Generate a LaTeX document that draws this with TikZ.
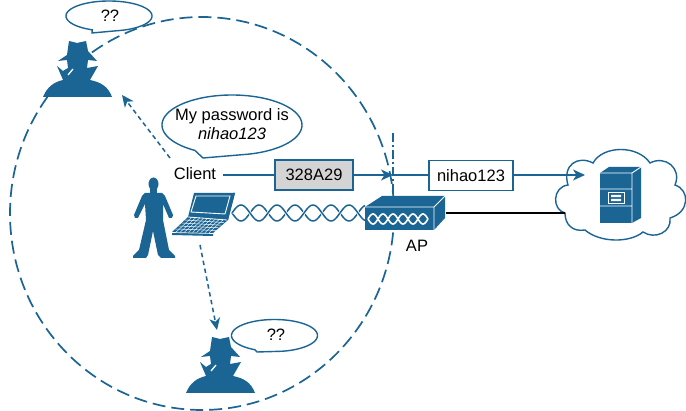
\documentclass[tikz,border=0pt]{standalone}
\usepackage{fontspec}
\setmainfont{Liberation Sans}
\usetikzlibrary{arrows.meta,calc}
\definecolor{ciscoblue}{HTML}{1B6595}
\definecolor{boxgray}{HTML}{D4D4D4}
\def\spyoutline{(69,41) -- (77,43) -- (86,41) -- (88,51) -- (97,61) -- (88,60) -- (87,68) -- (98,66) -- (90,80)
  .. controls (100,82) and (108,86) .. (112,97) -- (43,97)
  .. controls (47,87) and (54,82) .. (63,80) -- (57,66) -- (63,71) -- (68,68) -- (67,60) -- (58,61) -- (67,55) -- cycle}
\newcommand{\bubble}[8]{%
  \draw[bubbleline] plot[domain=#5:#6,samples=80,smooth] ({#1+#3*cos(\x)},{#2+#4*sin(\x)}) -- (#7,#8) -- cycle;}
\tikzset{
  bubbleline/.style={draw=ciscoblue,line width=1.4pt,fill=white,line join=miter},
  lbl/.style={font=\fontsize{16.5}{18.5}\selectfont,text=black,inner sep=0pt,align=center},
  boxed/.style={lbl,draw=ciscoblue,line width=1.5pt,minimum height=30pt,anchor=center},
  linkline/.style={draw=ciscoblue,line width=1.4pt},
  flowline/.style={linkline,-{Stealth[length=12pt,width=11pt,inset=3.5pt]}},
  dashflow/.style={draw=ciscoblue,line width=1.5pt,dash pattern=on 4.5pt off 3.5pt,
    -{Stealth[length=12pt,width=11pt,inset=3.5pt,color=ciscoblue,line width=0pt]}},
  rangeline/.style={draw=ciscoblue,line width=1.7pt,dash pattern=on 13pt off 6pt},
  spyfig/.pic={
    \fill[ciscoblue] \spyoutline;
    \draw[white,line width=1.3pt] (68,75) -- (73,69);
  }
}
\begin{document}
\begin{tikzpicture}[x=1pt,y=-1pt]
\useasboundingbox (0,0) rectangle (686,411);
\fill[white] (0,0) rectangle (686,411);

% range circle
\draw[rangeline] (202,213.5) ellipse [x radius=192,y radius=196.5];

% spies
\pic at (0,0) {spyfig};
\pic at (143,296) {spyfig};

% bubbles
\bubble{109}{16}{43}{15}{113}{440}{92}{33}
\bubble{232}{125}{70}{30}{122}{437}{203}{158}
\bubble{274.5}{335.5}{43}{16}{117}{440}{257}{352}
\node[lbl] (q1) at (110,16) {??};
\node[lbl] (pw) at (232,124) {My password is\\\textit{nihao123}};
\node[lbl] (q2) at (276,335) {??};

% person
\fill[ciscoblue] (153.5,184) circle [x radius=5,y radius=6.5];
\fill[ciscoblue] (150,188) rectangle (157,194);
\fill[ciscoblue] (145,193) -- (162,193) -- (165,196) -- (173,215) -- (172,218) -- (169,218) -- (163,204)
  -- (163,220) -- (169,250) -- (175,256) -- (175,258) -- (161,258) -- (158,255) -- (153,231)
  -- (148,255) -- (146,258) -- (133,258) -- (133,256) -- (139,250) -- (146,220) -- (145,204)
  -- (138,218) -- (135,218) -- (134,215) -- (142,196) -- cycle;

% laptop
\fill[ciscoblue] (194,193) -- (235,193) -- (228,220) -- (213,233) -- (213,236) -- (172,235) -- (172,232) -- (188,217) -- cycle;
\draw[white,line width=0.9pt] (196,196) -- (230,196) -- (225,214) -- (191,212) -- cycle;
\draw[white,line width=0.8pt] (188,217) -- (227,220);
\draw[white,line width=0.7pt] (172,232.5) -- (213,233.5);
\foreach \t in {0.2,0.4,0.6,0.8}{
  \draw[white,line width=0.5pt] ($(188,217)!\t!(172,232)$) -- ($(227,220)!\t!(213,233)$);
}
\foreach \t in {0.1,0.2,...,0.9}{
  \draw[white,line width=0.4pt] ($(188,217)!\t!(227,220)$) -- ($(172,232)!\t!(213,233)$);
}
\fill[ciscoblue] (235,193) -- (233,193) -- (226,218) -- (228,220) -- cycle;

% wireless
\draw[ciscoblue,line width=1.5pt] plot[domain=0:133,samples=120,smooth] ({232+\x},{213+8*sin(\x*10)});
\draw[white,line width=3pt] plot[domain=0:133,samples=120,smooth] ({232+\x},{213-8*sin(\x*10)});
\draw[ciscoblue,line width=1.5pt] plot[domain=0:133,samples=120,smooth] ({232+\x},{213-8*sin(\x*10)});

% cloud
\draw[ciscoblue,line width=1.4pt,fill=white] (565,213)
  .. controls (552,210) and (552,187) .. (568,185)
  .. controls (562,165) and (578,155) .. (593,163)
  .. controls (603,145) and (638,145) .. (650,163)
  .. controls (665,155) and (682,168) .. (675,185)
  .. controls (690,190) and (690,212) .. (670,218)
  .. controls (672,232) and (655,240) .. (643,232)
  .. controls (630,243) and (600,243) .. (585,230)
  .. controls (573,232) and (565,225) .. (565,213) -- cycle;

% server
\fill[ciscoblue] (600,173) -- (609,167) -- (641,167) -- (641,218) -- (632,223) -- (600,223) -- cycle;
\draw[white,line width=0.9pt] (600,173) -- (632,173) -- (641,167) (632,173) -- (632,223)
  (600,189) -- (632,189) (600,206) -- (632,206);
\draw[white,line width=0.9pt] (608,192.5) rectangle (624,203.5);
\fill[white] (611,195) rectangle (621,197.2) (611,199) rectangle (621,201.2);

% boundary
\coordinate (bt) at (393,133);
\coordinate (bb) at (393,200);
\draw[draw=ciscoblue,line width=1.3pt,dash pattern=on 9pt off 3pt on 2pt off 3pt] (bt) -- (bb);

% AP
\fill[ciscoblue] (365,207) -- (382,196) -- (445,196) -- (445,218) -- (434,230) -- (365,230) -- cycle;
\draw[white,line width=0.9pt] (365,207) -- (434,207) -- (445,196) (434,207) -- (434,230);
\draw[white,line width=1.6pt] plot[domain=0:60,samples=80,smooth] ({368+\x},{219+5*sin(\x*18)});
\draw[white,line width=1.6pt] plot[domain=0:60,samples=80,smooth] ({368+\x},{219-5*sin(\x*18)});
\node[lbl] (ap) at (417,246) {AP};
\coordinate (apr) at (446,213);
\coordinate (cll) at (565,213);
\draw[black,line width=2pt] (apr) -- (cll);

% flow labels
\node[lbl] (client) at (195,173.5) {Client};
\node[boxed,fill=boxgray,minimum width=78pt] (enc) at (314,175) {328A29};
\node[boxed,fill=white,minimum width=84pt] (plain) at (471,175.5) {nihao123};
\coordinate (bx) at (393,175);
\coordinate (srv) at (585,175);
\path (client.east) ++(7,1.5) coordinate (cle);
\draw[linkline] (cle) -- (enc.west |- cle);
\draw[flowline] (enc.east |- bx) -- (bx);
\draw[linkline] (bx) -- (plain.west |- bx);
\draw[flowline] (plain.east |- srv) -- (srv);

% sniffing arrows
\coordinate (s1) at (170,158);
\coordinate (t1) at (122,95);
\coordinate (s2) at (200,245);
\coordinate (t2) at (217,330);
\draw[dashflow] (s1) -- (t1);
\draw[dashflow] (s2) -- (t2);
\end{tikzpicture}
\end{document}
